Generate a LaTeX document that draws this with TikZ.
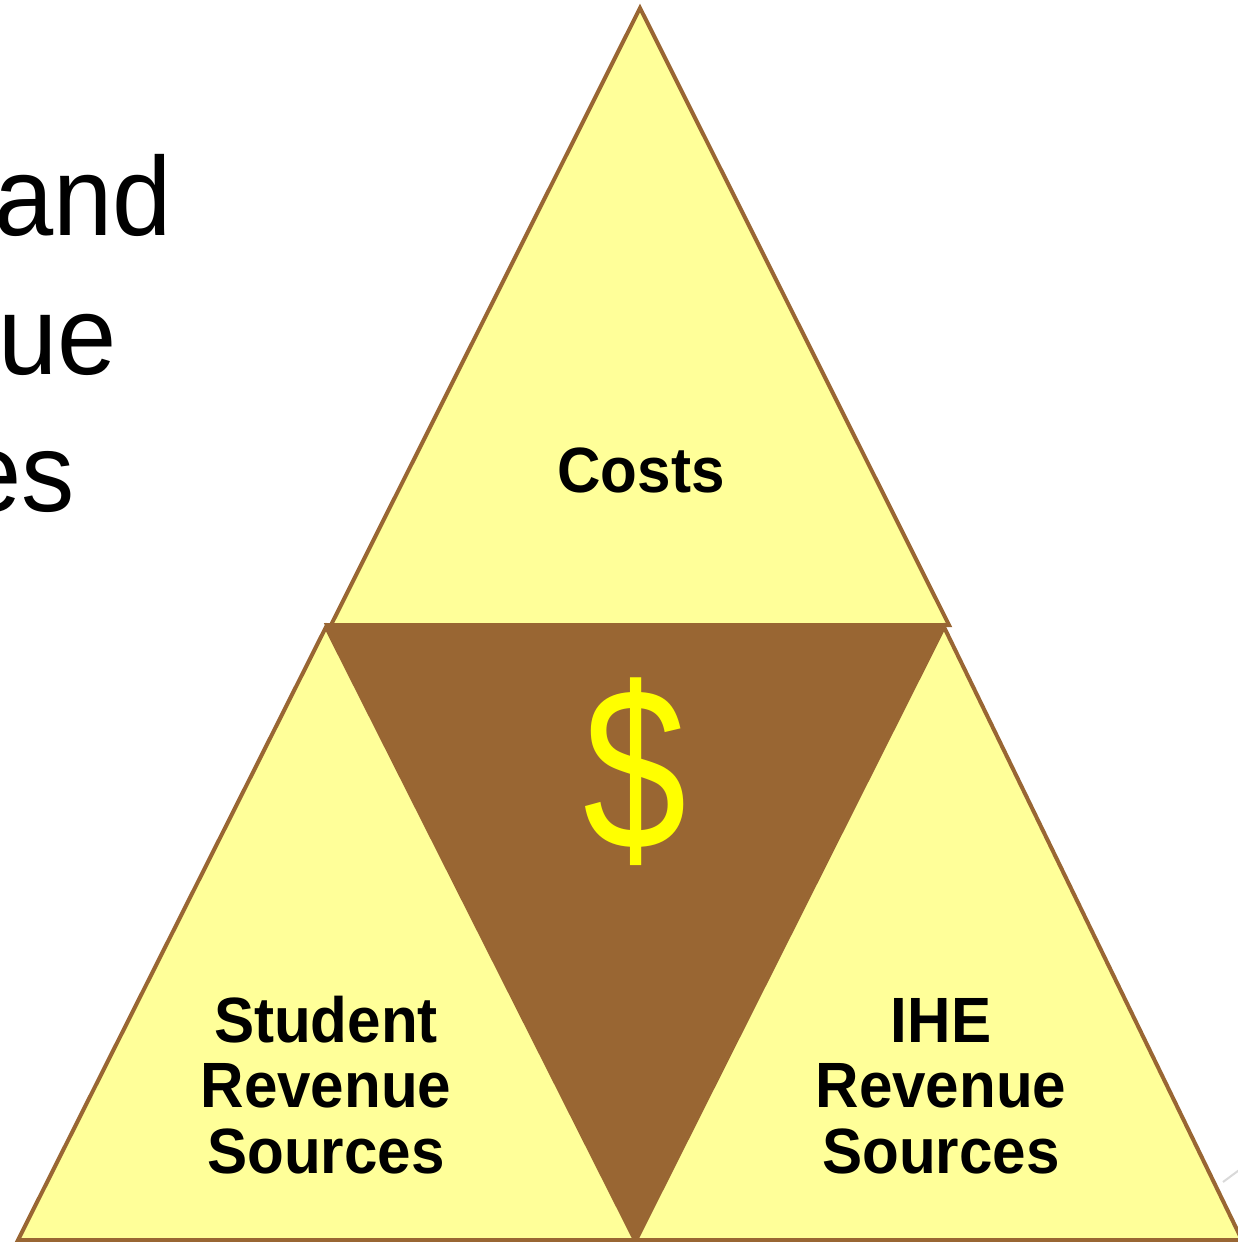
\documentclass[tikz,border=0pt]{standalone}
\usepackage{fontspec}
\setmainfont{Liberation Sans}
\newfontfamily\lblfont[FakeStretch=0.94]{Liberation Sans}
\newfontfamily\bigfont[FakeStretch=0.95]{Liberation Sans}
\newfontfamily\dollarfont[FakeStretch=0.8]{Liberation Sans}
\definecolor{paleyellow}{HTML}{FFFF99}
\definecolor{brownish}{HTML}{996633}
\definecolor{dollaryellow}{HTML}{FFFF00}
\begin{document}
\begin{tikzpicture}[x=1pt,y=-1pt,
  tri/.style={fill=paleyellow,draw=brownish,line width=4pt},
  midtri/.style={fill=brownish,draw=brownish,line width=4pt},
  lbl/.style={inner sep=0pt,font=\lblfont\bfseries\fontsize{64}{65.5}\selectfont,align=center,anchor=base},
  title/.style={inner sep=0pt,font=\bigfont\fontsize{112}{137}\selectfont,anchor=base east}]
\useasboundingbox (0,0) rectangle (1238,1242);
% faint grey line at the right
\draw[gray!30,line width=2pt] (1223,1182) -- (1250,1162);
% title fragments cut off at the left
\node[title] (t1) at (172,235) {and};
\node[title] (t2) at (117,374) {ue};
\node[title] (t3) at (75,511) {es};
% triangles
\draw[tri] (640,8) -- (949,625) -- (331,625) -- cycle;
\draw[midtri] (327,625) -- (945,625) -- (635,1240) -- cycle;
\draw[tri] (326,627) -- (635,1240) -- (18,1240) -- cycle;
\draw[tri] (944,627) -- (1242,1240) -- (636,1240) -- cycle;
% labels
\node[lbl] (costs) at (641,492) {Costs};
\node[lbl] (student) at (326,1173) {Student\\Revenue\\Sources};
\node[lbl] (ihe) at (941,1173) {IHE\\Revenue\\Sources};
\node[inner sep=0pt,text=dollaryellow,font=\dollarfont\fontsize{232}{232}\selectfont] (dollar) at (635,772) {\$};
\end{tikzpicture}
\end{document}
